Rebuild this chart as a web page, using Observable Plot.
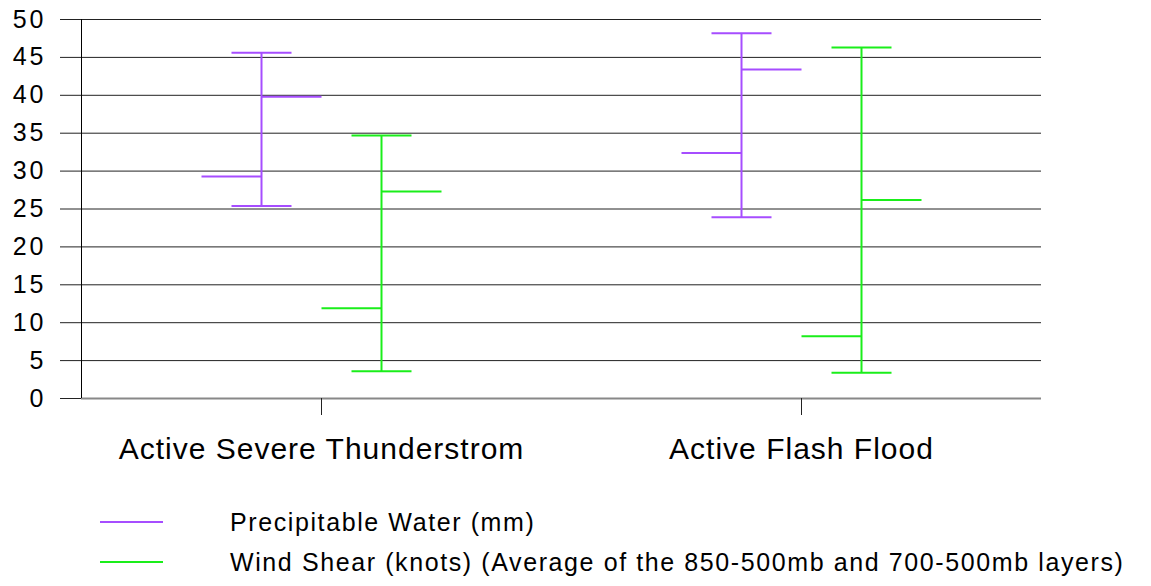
<!DOCTYPE html>
<html>
<head>
<meta charset="utf-8">
<script src="https://cdn.jsdelivr.net/npm/d3@7"></script>
<script src="https://cdn.jsdelivr.net/npm/@observablehq/plot@0.6"></script>
<style>
  body { margin: 0; background: #fff; font-family: "Liberation Sans", Arial, sans-serif; }
  #legend { position: relative; width: 1151px; height: 116px; }
  .lg-line { position: absolute; left: 100px; width: 63px; height: 2px; }
  .lg-text { position: absolute; left: 230px; font-size: 25px; letter-spacing: 1.6px; color: #000; white-space: nowrap; line-height: 1; }
</style>
</head>
<body>
<div id="chart"></div>
<div id="legend"></div>
<script>
const categories = ["Active Severe Thunderstrom", "Active Flash Flood"];
const seriesNames = ["Precipitable Water (mm)", "Wind Shear (knots) (Average of the 850-500mb and 700-500mb layers)"];
const seriesColors = ["#a64dff", "#1aee1a"];
const pwHigh = [45.6, 48.2];
const pwLow = [25.4, 23.9];
const pwOpen = [29.3, 32.4];
const pwClose = [39.8, 43.4];
const wsHigh = [34.7, 46.3];
const wsLow = [3.6, 3.4];
const wsOpen = [11.9, 8.2];
const wsClose = [27.3, 26.2];
const yTicks = [0, 5, 10, 15, 20, 25, 30, 35, 40, 45, 50];

const series = [
  {name: seriesNames[0], color: seriesColors[0], off: -0.25, high: pwHigh, low: pwLow, open: pwOpen, close: pwClose},
  {name: seriesNames[1], color: seriesColors[1], off: 0.25, high: wsHigh, low: wsLow, open: wsOpen, close: wsClose}
];
const segs = [];
series.forEach(s => {
  categories.forEach((c, i) => {
    const o = s.off;
    segs.push({c, s: s.name, x1: o, x2: o, y1: s.low[i], y2: s.high[i]});
    segs.push({c, s: s.name, x1: o - 0.125, x2: o + 0.125, y1: s.high[i], y2: s.high[i]});
    segs.push({c, s: s.name, x1: o - 0.125, x2: o + 0.125, y1: s.low[i], y2: s.low[i]});
    segs.push({c, s: s.name, x1: o - 0.25, x2: o, y1: s.open[i], y2: s.open[i]});
    segs.push({c, s: s.name, x1: o, x2: o + 0.25, y1: s.close[i], y2: s.close[i]});
  });
});

const chart = Plot.plot({
  width: 1151,
  height: 470,
  marginTop: 19,
  marginBottom: 72,
  marginLeft: 81,
  marginRight: 110,
  style: {fontFamily: "'Liberation Sans', Arial, sans-serif", background: "#fff", color: "#000"},
  fx: {domain: categories, padding: 0, label: null, axis: null},
  x: {domain: [-1, 1], axis: null},
  y: {domain: [0, 50], axis: null},
  color: {domain: seriesNames, range: seriesColors},
  marks: [
    Plot.gridY(yTicks, {stroke: "#222", strokeOpacity: 1}),
    Plot.ruleY([{v: 0}], {y: "v", stroke: "#888", strokeWidth: 2}),
    Plot.ruleX([{c: categories[0], v: -1, a: 0, b: 50}], {fx: "c", x: "v", y1: "a", y2: "b", stroke: "#000"}),
    Plot.axisY(yTicks, {tickSize: 21, tickPadding: 14, label: null, stroke: "#222", anchor: "left"}),
    Plot.axisFx({anchor: "bottom", tickSize: 17, tickPadding: 22, label: null, stroke: "#222"}),
    Plot.link(segs, {fx: "c", x1: "x1", x2: "x2", y1: "y1", y2: "y2", stroke: "s", strokeWidth: 2})
  ]
});
const sel = d3.select(chart);
sel.selectAll("text").filter(function() { return /^\d+$/.test(this.textContent.trim()); })
  .style("font-size", "25px").style("letter-spacing", "3px");
sel.selectAll('g[aria-label="fx-axis tick label"] text').style("letter-spacing", "1px").style("font-size", "30px");
document.getElementById("chart").appendChild(chart);

const legend = document.getElementById("legend");
series.forEach((s, i) => {
  const line = document.createElement("div");
  line.className = "lg-line";
  line.style.top = (51 + i * 40) + "px";
  line.style.background = s.color;
  legend.appendChild(line);
  const t = document.createElement("div");
  t.className = "lg-text";
  t.style.top = (40 + i * 40) + "px";
  t.textContent = s.name;
  legend.appendChild(t);
});
</script>
</body>
</html>
